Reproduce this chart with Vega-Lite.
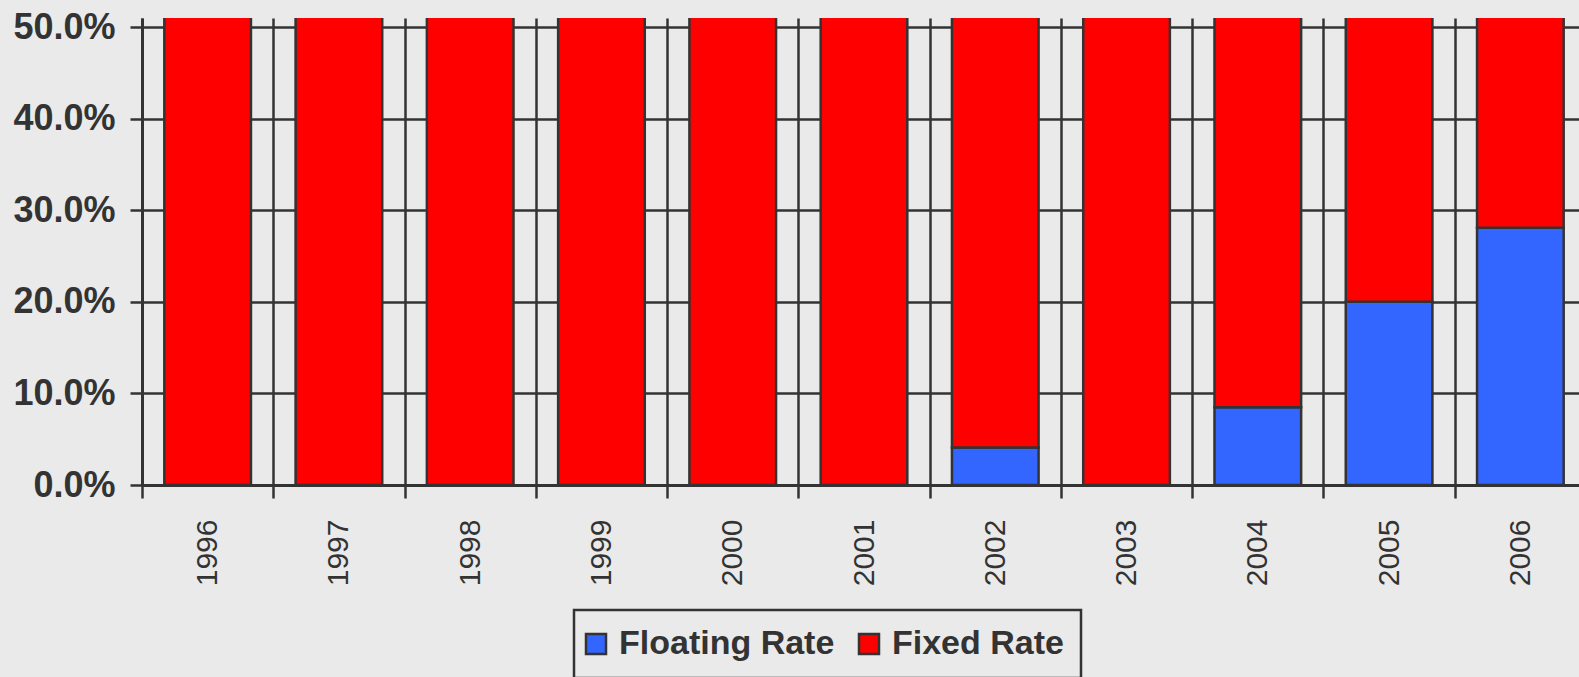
{
  "$schema": "https://vega.github.io/schema/vega-lite/v6.json",
  "width": 1444,
  "height": 467,
  "autosize": {"type": "none"},
  "padding": {"left": 142, "top": 18, "right": 0, "bottom": 192},
  "background": "#EAEAEA",
  "data": {
    "values": [
      {"year": "1996", "type": "Floating Rate", "value": 0.0},
      {"year": "1996", "type": "Fixed Rate", "value": 1.0},
      {"year": "1997", "type": "Floating Rate", "value": 0.0},
      {"year": "1997", "type": "Fixed Rate", "value": 1.0},
      {"year": "1998", "type": "Floating Rate", "value": 0.0},
      {"year": "1998", "type": "Fixed Rate", "value": 1.0},
      {"year": "1999", "type": "Floating Rate", "value": 0.0},
      {"year": "1999", "type": "Fixed Rate", "value": 1.0},
      {"year": "2000", "type": "Floating Rate", "value": 0.0},
      {"year": "2000", "type": "Fixed Rate", "value": 1.0},
      {"year": "2001", "type": "Floating Rate", "value": 0.0},
      {"year": "2001", "type": "Fixed Rate", "value": 1.0},
      {"year": "2002", "type": "Floating Rate", "value": 0.041},
      {"year": "2002", "type": "Fixed Rate", "value": 0.959},
      {"year": "2003", "type": "Floating Rate", "value": 0.0},
      {"year": "2003", "type": "Fixed Rate", "value": 1.0},
      {"year": "2004", "type": "Floating Rate", "value": 0.085},
      {"year": "2004", "type": "Fixed Rate", "value": 0.915},
      {"year": "2005", "type": "Floating Rate", "value": 0.2},
      {"year": "2005", "type": "Fixed Rate", "value": 0.8},
      {"year": "2006", "type": "Floating Rate", "value": 0.281},
      {"year": "2006", "type": "Fixed Rate", "value": 0.719}
    ]
  },
  "mark": {
    "type": "bar",
    "width": {"band": 0.66},
    "stroke": "#333333",
    "strokeWidth": 2.5,
    "clip": true
  },
  "encoding": {
    "x": {
      "field": "year",
      "type": "ordinal",
      "scale": {"paddingInner": 0, "paddingOuter": 0},
      "axis": {
        "title": null,
        "tickBand": "extent",
        "labelAngle": -90,
        "labelFont": "Liberation Sans",
        "labelFontSize": 30,
        "labelFontWeight": "normal",
        "labelColor": "#333333",
        "labelPadding": 21,
        "tickSize": 13,
        "tickColor": "#333333",
        "tickWidth": 2.5,
        "domainColor": "#333333",
        "domainWidth": 3,
        "grid": true,
        "gridColor": "#333333",
        "gridWidth": 2.5,
        "gridOpacity": 1
      }
    },
    "y": {
      "field": "value",
      "type": "quantitative",
      "stack": "zero",
      "scale": {"domain": [0, 0.51], "nice": false, "zero": true},
      "axis": {
        "title": null,
        "values": [0, 0.1, 0.2, 0.3, 0.4, 0.5],
        "format": ".1%",
        "labelFont": "Liberation Sans",
        "labelFontSize": 36,
        "labelFontWeight": "bold",
        "labelColor": "#333333",
        "labelPadding": 15,
        "tickSize": 12,
        "tickColor": "#333333",
        "tickWidth": 2.5,
        "domainColor": "#333333",
        "domainWidth": 3,
        "grid": true,
        "gridColor": "#333333",
        "gridWidth": 2.5,
        "gridOpacity": 1
      }
    },
    "color": {
      "field": "type",
      "type": "nominal",
      "scale": {"domain": ["Floating Rate", "Fixed Rate"], "range": ["#3366FF", "#FF0000"]},
      "legend": {
        "title": null,
        "orient": "none",
        "legendX": 432,
        "legendY": 592,
        "direction": "horizontal",
        "columns": 2,
        "columnPadding": 19,
        "padding": 17,
        "symbolOffset": -12,
        "strokeColor": "#333333",
        "symbolType": "square",
        "symbolSize": 400,
        "symbolStrokeColor": "#333333",
        "symbolStrokeWidth": 2.5,
        "symbolOpacity": 1,
        "labelFont": "Liberation Sans",
        "labelFontSize": 34,
        "labelFontWeight": "bold",
        "labelColor": "#333333",
        "labelOffset": 6,
        "labelLimit": 400,
        "encode": {"legend": {"update": {"strokeWidth": {"value": 2.5}}}}
      }
    },
    "order": {"field": "type", "sort": "descending"}
  },
  "config": {"view": {"stroke": null}}
}
